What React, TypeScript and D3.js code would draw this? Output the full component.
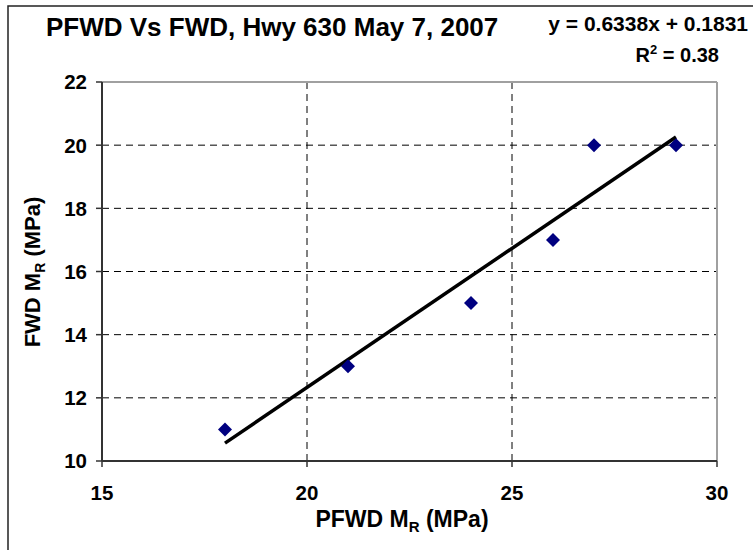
import React from "react";
import * as d3 from "d3";

const pfwd = [18, 21, 24, 26, 27, 29];
const fwd = [11, 13, 15, 17, 20, 20];
const xTicks = [15, 20, 25, 30];
const yTicks = [10, 12, 14, 16, 18, 20, 22];
const titleText = "PFWD Vs FWD, Hwy 630 May 7, 2007";
const eqText = "y = 0.6338x + 0.1831";
const r2Value = "0.38";

const W = 753;
const H = 550;
const M = { left: 102, right: 717, top: 82, bottom: 461 };
const FONT = "'Liberation Sans', Arial, sans-serif";

export default function App() {
  const x = d3.scaleLinear().domain([15, 30]).range([M.left, M.right]);
  const y = d3.scaleLinear().domain([10, 22]).range([M.bottom, M.top]);

  const mx = d3.mean(pfwd)!;
  const my = d3.mean(fwd)!;
  const sxy = d3.sum(pfwd, (v, i) => (v - mx) * (fwd[i] - my));
  const sxx = d3.sum(pfwd, (v) => (v - mx) * (v - mx));
  const slope = sxy / sxx;
  const icpt = my - slope * mx;
  const x0 = d3.min(pfwd)!;
  const x1 = d3.max(pfwd)!;
  const line = d3.line<number>().x((d) => x(d)).y((d) => y(slope * d + icpt));

  const r = 7;
  const diamond = `M0,${-r}L${r},0L0,${r}L${-r},0Z`;

  return (
    <svg width={W} height={H} style={{ position: "absolute", left: 0, top: 0, background: "#fff" }} fontFamily={FONT}>
      <rect x={0} y={0} width={W} height={H} fill="#fff" />
      <rect x={8} y={6} width={W + 20} height={H + 20} fill="none" stroke="#222" strokeWidth={1.5} />
      {/* gridlines */}
      {yTicks.filter((t) => t > 10 && t < 22).map((t) => (
        <line key={"gy" + t} x1={M.left} x2={M.right} y1={y(t)} y2={y(t)} stroke="#000" strokeWidth={1} strokeDasharray="7,5" />
      ))}
      {xTicks.filter((t) => t > 15 && t < 30).map((t) => (
        <line key={"gx" + t} x1={x(t)} x2={x(t)} y1={M.top} y2={M.bottom} stroke="#000" strokeWidth={1} strokeDasharray="7,5" />
      ))}
      {/* plot border top/right */}
      <line x1={M.left} x2={M.right} y1={M.top} y2={M.top} stroke="#a0a0a0" strokeWidth={2} />
      <line x1={M.right} x2={M.right} y1={M.top} y2={M.bottom} stroke="#a0a0a0" strokeWidth={2} />
      {/* axes */}
      <line x1={M.left} x2={M.left} y1={M.top} y2={M.bottom} stroke="#333" strokeWidth={2} />
      <line x1={M.left} x2={M.right} y1={M.bottom} y2={M.bottom} stroke="#333" strokeWidth={2} />
      {yTicks.map((t) => (
        <g key={"ty" + t}>
          <line x1={M.left - 6} x2={M.left} y1={y(t)} y2={y(t)} stroke="#333" strokeWidth={1.5} />
          <text x={M.left - 15} y={y(t)} dy="0.36em" textAnchor="end" fontSize={20.5} fontWeight="bold">{t}</text>
        </g>
      ))}
      {xTicks.map((t) => (
        <g key={"tx" + t}>
          <line x1={x(t)} x2={x(t)} y1={M.bottom} y2={M.bottom + 6} stroke="#333" strokeWidth={1.5} />
          <text x={x(t)} y={500} textAnchor="middle" fontSize={20.5} fontWeight="bold">{t}</text>
        </g>
      ))}
      {/* trendline */}
      <path d={line([x0, x1]) || ""} fill="none" stroke="#000" strokeWidth={3.5} />
      {/* points */}
      {pfwd.map((v, i) => (
        <path key={"p" + i} d={diamond} transform={`translate(${x(v)},${y(fwd[i])})`} fill="#000080" />
      ))}
      {/* titles */}
      <text x={46} y={36} fontSize={26} fontWeight="bold">{titleText}</text>
      <text x={748} y={31} textAnchor="end" fontSize={21} fontWeight="bold">{eqText}</text>
      <text x={719} y={62} textAnchor="end" fontSize={20} fontWeight="bold">
        R<tspan fontSize={13} dy={-8}>2</tspan><tspan dy={8}> = {r2Value}</tspan>
      </text>
      <text x={402} y={527} textAnchor="middle" fontSize={23} fontWeight="bold">
        PFWD M<tspan fontSize={15} dy={5}>R</tspan><tspan dy={-5}> (MPa)</tspan>
      </text>
      <text transform={`translate(40,272) rotate(-90)`} textAnchor="middle" fontSize={22} fontWeight="bold">
        FWD M<tspan fontSize={14} dy={5}>R</tspan><tspan dy={-5}> (MPa)</tspan>
      </text>
    </svg>
  );
}
